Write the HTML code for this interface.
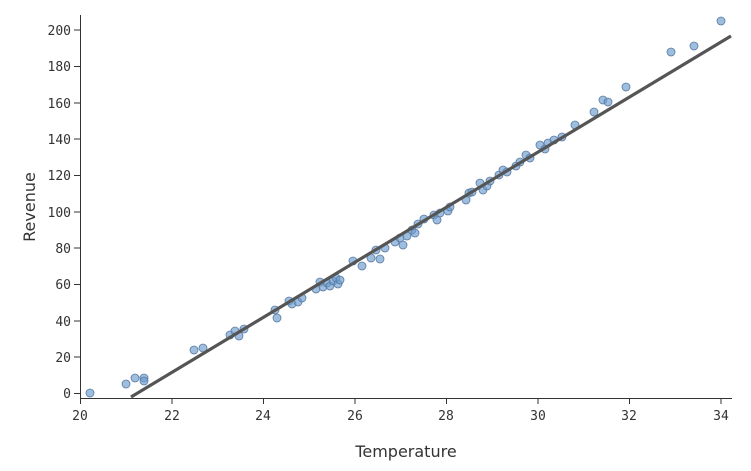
<!DOCTYPE html>
<html><head><meta charset="utf-8"><style>body{margin:0;background:#fff}svg{display:block}text{font-family:"DejaVu Sans Mono","Liberation Mono",monospace;font-size:13px;fill:#333}</style></head><body>
<svg width="751" height="471" xmlns="http://www.w3.org/2000/svg">
<g stroke="#333" stroke-width="1" fill="none">
<path d="M80.5,15V398.5H732"/>
<path d="M80.5,398v6M172,398v6M263.5,398v6M355,398v6M446.5,398v6M538,398v6M629.5,398v6M721,398v6"/>
<path d="M74,393.5h6M74,357h6M74,321h6M74,284.5h6M74,248h6M74,212h6M74,175.5h6M74,139h6M74,103h6M74,66.5h6M74,30h6"/>
</g>
<g text-anchor="middle">
<text x="80" y="420">20</text><text x="172" y="420">22</text><text x="263" y="420">24</text><text x="355" y="420">26</text><text x="446" y="420">28</text><text x="538" y="420">30</text><text x="629" y="420">32</text><text x="721" y="420">34</text>
</g>
<g text-anchor="end">
<text x="71" y="398">0</text><text x="71" y="362">20</text><text x="71" y="326">40</text><text x="71" y="289">60</text><text x="71" y="253">80</text><text x="71" y="217">100</text><text x="71" y="180">120</text><text x="71" y="144">140</text><text x="71" y="108">160</text><text x="71" y="71">180</text><text x="71" y="35">200</text>
</g>
<text x="406" y="457" text-anchor="middle" style="font-family:'DejaVu Sans','Liberation Sans',sans-serif;font-size:16px">Temperature</text>
<text transform="translate(35,207) rotate(-90)" text-anchor="middle" style="font-family:'DejaVu Sans','Liberation Sans',sans-serif;font-size:16px">Revenue</text>
<g fill="#6a9bd0" fill-opacity="0.65" stroke="#5a7a9f" stroke-width="0.8">
<circle cx="90" cy="393" r="4"/><circle cx="126" cy="384" r="4"/><circle cx="135" cy="378" r="4"/><circle cx="144" cy="378" r="4"/><circle cx="144" cy="381" r="4"/>
<circle cx="194" cy="350" r="4"/><circle cx="203" cy="348" r="4"/><circle cx="230" cy="335" r="4"/><circle cx="235" cy="331" r="4"/><circle cx="239" cy="336" r="4"/><circle cx="244" cy="329" r="4"/>
<circle cx="275" cy="310" r="4"/><circle cx="277" cy="318" r="4"/><circle cx="289" cy="301" r="4"/><circle cx="292" cy="304" r="4"/><circle cx="298" cy="302" r="4"/><circle cx="302" cy="298" r="4"/>
<circle cx="316" cy="289" r="4"/><circle cx="320" cy="282" r="4"/><circle cx="323" cy="287" r="4"/><circle cx="327" cy="283" r="4"/><circle cx="330" cy="286" r="4"/><circle cx="333" cy="281" r="4"/><circle cx="336" cy="278" r="4"/><circle cx="338" cy="284" r="4"/><circle cx="340" cy="280" r="4"/>
<circle cx="353" cy="261" r="4"/><circle cx="362" cy="266" r="4"/><circle cx="371" cy="258" r="4"/><circle cx="376" cy="250" r="4"/><circle cx="380" cy="259" r="4"/><circle cx="385" cy="248" r="4"/>
<circle cx="395" cy="242" r="4"/><circle cx="400" cy="238" r="4"/><circle cx="403" cy="245" r="4"/><circle cx="407" cy="236" r="4"/><circle cx="412" cy="230" r="4"/><circle cx="415" cy="233" r="4"/><circle cx="418" cy="224" r="4"/><circle cx="424" cy="219" r="4"/>
<circle cx="434" cy="215" r="4"/><circle cx="437" cy="220" r="4"/><circle cx="440" cy="213" r="4"/><circle cx="448" cy="211" r="4"/><circle cx="450" cy="207" r="4"/>
<circle cx="466" cy="200" r="4"/><circle cx="469" cy="193" r="4"/><circle cx="472" cy="192" r="4"/><circle cx="480" cy="183" r="4"/><circle cx="483" cy="190" r="4"/><circle cx="487" cy="186" r="4"/><circle cx="490" cy="181" r="4"/>
<circle cx="499" cy="175" r="4"/><circle cx="503" cy="170" r="4"/><circle cx="507" cy="172" r="4"/><circle cx="516" cy="166" r="4"/><circle cx="520" cy="162" r="4"/><circle cx="526" cy="155" r="4"/><circle cx="530" cy="158" r="4"/>
<circle cx="540" cy="145" r="4"/><circle cx="545" cy="149" r="4"/><circle cx="548" cy="143" r="4"/><circle cx="554" cy="140" r="4"/><circle cx="562" cy="137" r="4"/><circle cx="575" cy="125" r="4"/>
<circle cx="594" cy="112" r="4"/><circle cx="603" cy="100" r="4"/><circle cx="608" cy="102" r="4"/><circle cx="626" cy="87" r="4"/><circle cx="671" cy="52" r="4"/><circle cx="694" cy="46" r="4"/><circle cx="721" cy="21" r="4"/>
</g>
<line x1="131" y1="397" x2="731" y2="36" stroke="#555" stroke-width="3.2"/>
</svg>
</body></html>
